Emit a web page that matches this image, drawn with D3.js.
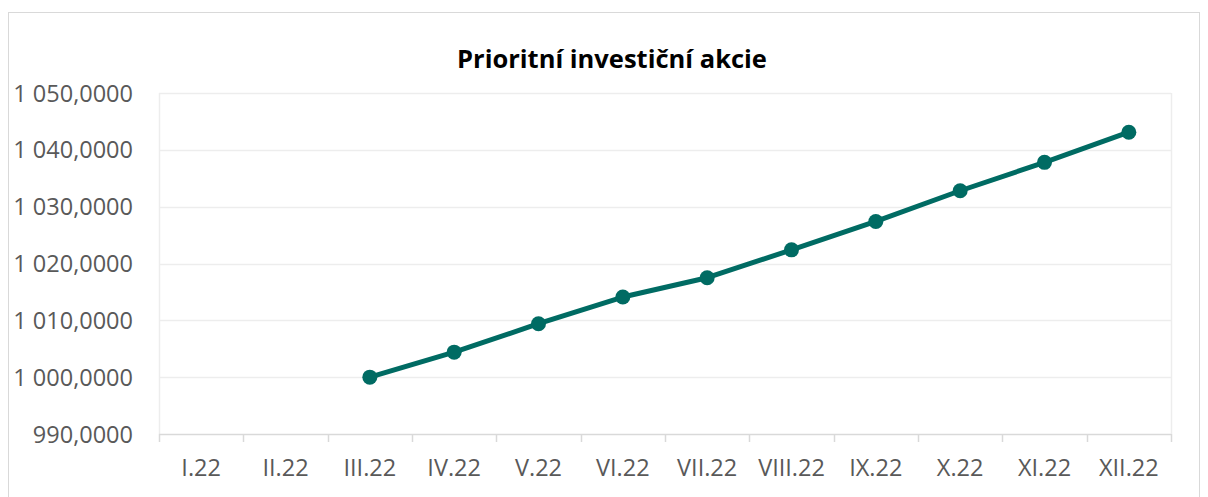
<!DOCTYPE html>
<html>
<head>
<meta charset="utf-8">
<script src="https://cdn.jsdelivr.net/npm/d3@7"></script>
<style>
  body { margin: 0; background: #fff; }
  text { font-family: "Open Sans", Lato, sans-serif; }
</style>
</head>
<body>
<svg id="chart" width="1208" height="497"></svg>
<script>
// data
const months = ["I.22", "II.22", "III.22", "IV.22", "V.22", "VI.22", "VII.22", "VIII.22", "IX.22", "X.22", "XI.22", "XII.22"]
const values = [null, null, 1000.0, 1004.4, 1009.4, 1014.1, 1017.5, 1022.4, 1027.4, 1032.8, 1037.8, 1043.1]
const yTicks = [990, 1000, 1010, 1020, 1030, 1040, 1050]

const svg = d3.select("#chart")
const plotLeft = 159, plotRight = 1171, plotTop = 93, plotBottom = 434
const lineColor = "#006B63"

// outer chart border
svg.append("rect")
    .attr("x", 8.5).attr("y", 12.5)
    .attr("width", 1191).attr("height", 500)
    .attr("fill", "#fff")
    .attr("stroke", "#D9D9D9")

svg.append("text")
    .attr("x", 612).attr("y", 68)
    .attr("text-anchor", "middle")
    .attr("font-size", 25.5).attr("font-weight", "bold")
    .attr("fill", "#000")
    .text("Prioritní investiční akcie")

const x = d3.scaleBand().domain(months).range([plotLeft, plotRight])
const y = d3.scaleLinear().domain([990, 1050]).range([plotBottom, plotTop])

const fmt = v => {
    let s = d3.format(",.4f")(v)
    return s.replace(/,/g, " ").replace(".", ",")
}

// horizontal gridlines
svg.append("g")
    .selectAll("line")
    .data(yTicks.filter(d => d > 990))
    .join("line")
    .attr("x1", plotLeft).attr("x2", plotRight)
    .attr("y1", d => Math.round(y(d)) + 0.5).attr("y2", d => Math.round(y(d)) + 0.5)
    .attr("stroke", "#EDEDED").attr("stroke-width", 1.5)

// vertical edges of plot
svg.append("line")
    .attr("x1", plotLeft + 0.5).attr("x2", plotLeft + 0.5).attr("y1", plotTop).attr("y2", plotBottom)
    .attr("stroke", "#EDEDED").attr("stroke-width", 1.5)
svg.append("line")
    .attr("x1", plotRight + 0.5).attr("x2", plotRight + 0.5).attr("y1", plotTop).attr("y2", plotBottom)
    .attr("stroke", "#EDEDED").attr("stroke-width", 1.5)

// y labels
svg.append("g")
    .selectAll("text")
    .data(yTicks)
    .join("text")
    .attr("x", 133)
    .attr("y", d => y(d) + 8.5)
    .attr("text-anchor", "end")
    .attr("font-size", 23.5)
    .attr("fill", "#595959")
    .text(fmt)

// x axis line and ticks at category boundaries
svg.append("line")
    .attr("x1", plotLeft).attr("x2", plotRight)
    .attr("y1", plotBottom + 0.5).attr("y2", plotBottom + 0.5)
    .attr("stroke", "#D9D9D9").attr("stroke-width", 1.5)
const bounds = months.map(m => x(m)).concat([plotRight])
svg.append("g")
    .selectAll("line")
    .data(bounds)
    .join("line")
    .attr("x1", d => Math.round(d) + 0.5).attr("x2", d => Math.round(d) + 0.5)
    .attr("y1", plotBottom).attr("y2", plotBottom + 8)
    .attr("stroke", "#D9D9D9").attr("stroke-width", 1.5)

svg.append("g")
    .selectAll("text")
    .data(months)
    .join("text")
    .attr("x", d => x(d) + x.bandwidth() / 2)
    .attr("y", 476)
    .attr("text-anchor", "middle")
    .attr("font-size", 23.5)
    .attr("fill", "#595959")
    .text(d => d)

const pts = months.map((m, i) => ({ m: m, v: values[i] })).filter(d => d.v !== null)

const line = d3.line()
    .x(d => x(d.m) + x.bandwidth() / 2)
    .y(d => y(d.v))

svg.append("path")
    .datum(pts)
    .attr("d", line)
    .attr("fill", "none")
    .attr("stroke", lineColor)
    .attr("stroke-width", 5)
    .attr("stroke-linejoin", "round")

svg.append("g")
    .selectAll("circle")
    .data(pts)
    .join("circle")
    .attr("cx", d => x(d.m) + x.bandwidth() / 2)
    .attr("cy", d => y(d.v))
    .attr("r", 7.5)
    .attr("fill", lineColor)
</script>
</body>
</html>
